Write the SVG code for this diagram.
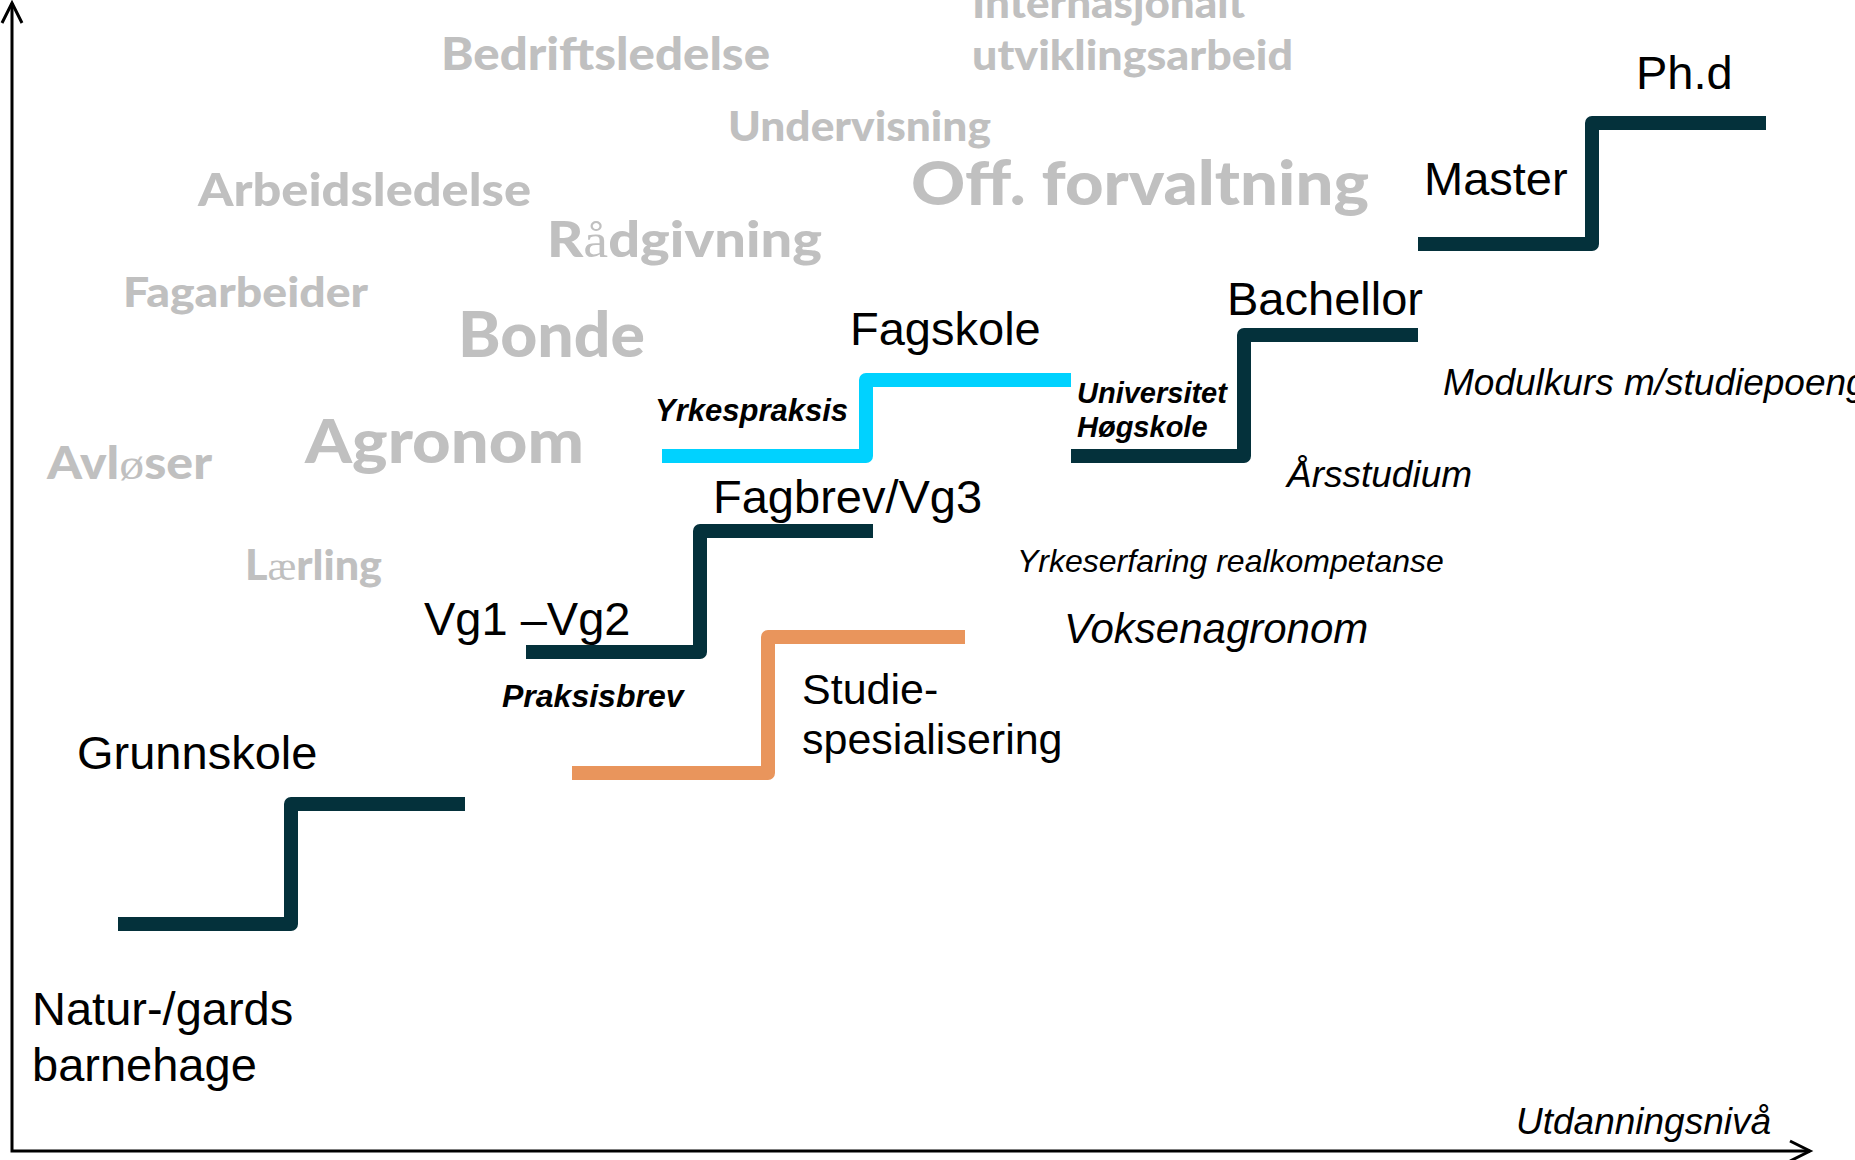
<svg xmlns="http://www.w3.org/2000/svg" width="1855" height="1160" viewBox="0 0 1855 1160">
  <style>
    .grey { font-family: "Lato", "DejaVu Sans", sans-serif; font-weight: 900; fill: #C0C0C0; }
    .alt { font-family: "Liberation Serif", serif; font-weight: 400; }
    .lbl { font-family: "Liberation Sans", Arial, sans-serif; fill: #000; font-size: 47px; }
    .it { font-family: "Liberation Sans", Arial, sans-serif; font-style: italic; fill: #000; }
    .bi { font-family: "Liberation Sans", Arial, sans-serif; font-style: italic; font-weight: 700; fill: #000; }
    .step { fill: none; stroke-width: 14; stroke-linejoin: round; stroke-linecap: butt; }
    .teal { stroke: #04313B; }
    .cyan { stroke: #00D2FF; }
    .orange { stroke: #E9955C; }
    .axis { fill: none; stroke: #000; stroke-width: 3; }
  </style>
  <defs>
    <marker id="arrow" viewBox="-24 -14 28 28" markerWidth="28" markerHeight="28" refX="0" refY="0" orient="auto-start-reverse" markerUnits="userSpaceOnUse">
      <path d="M-20,-10 L0,0 L-20,10" fill="none" stroke="#000" stroke-width="3"/>
    </marker>
  </defs>
  <rect width="1855" height="1160" fill="#FFFFFF"/>

  <!-- grey career words -->
  <g id="careers">
    <text class="grey" x="441" y="70" font-size="45" textLength="329" lengthAdjust="spacingAndGlyphs">Bedriftsledelse</text>
    <text class="grey" x="198" y="206" font-size="46" textLength="333" lengthAdjust="spacingAndGlyphs">Arbeidsledelse</text>
    <text class="grey" x="728" y="141" font-size="41" textLength="263" lengthAdjust="spacingAndGlyphs">Undervisning</text>
    <text class="grey" x="547" y="257" font-size="49" textLength="275" lengthAdjust="spacingAndGlyphs">R<tspan class="alt">å</tspan>dgivning</text>
    <text class="grey" x="123" y="307" font-size="41" textLength="245" lengthAdjust="spacingAndGlyphs">Fagarbeider</text>
    <text class="grey" x="458" y="357" font-size="63" textLength="187" lengthAdjust="spacingAndGlyphs">Bonde</text>
    <text class="grey" x="47" y="479" font-size="45" textLength="165" lengthAdjust="spacingAndGlyphs">Avl<tspan class="alt">ø</tspan>ser</text>
    <text class="grey" x="305" y="463" font-size="60" textLength="279" lengthAdjust="spacingAndGlyphs">Agronom</text>
    <text class="grey" x="245" y="580" font-size="42" textLength="137" lengthAdjust="spacingAndGlyphs">L<tspan class="alt">æ</tspan>rling</text>
    <text class="grey" x="911" y="205" font-size="60" textLength="458" lengthAdjust="spacingAndGlyphs">Off. forvaltning</text>
    <text class="grey" x="972" y="18" font-size="41" textLength="273" lengthAdjust="spacingAndGlyphs">Internasjonalt</text>
    <text class="grey" x="972" y="70" font-size="41" textLength="321" lengthAdjust="spacingAndGlyphs">utviklingsarbeid</text>
  </g>

  <!-- axes (connectors) -->
  <g id="connectors">
    <path class="axis" d="M12,3 V1151 H1810" marker-start="url(#arrow)" marker-end="url(#arrow)"/>
  </g>

  <g id="natur-barnehage">
    <text class="lbl" x="32" y="1025">Natur-/gards</text>
    <text class="lbl" x="32" y="1081">barnehage</text>
  </g>

  <g id="grunnskole">
    <path class="step teal" d="M118,924 H291 V804 H465"/>
    <text class="lbl" x="77" y="769">Grunnskole</text>
  </g>

  <g id="vg1-vg3">
    <path class="step teal" d="M526,652 H700 V531 H873"/>
    <text class="lbl" x="424" y="635">Vg1 –Vg2</text>
    <text class="lbl" x="713" y="513">Fagbrev/Vg3</text>
    <text class="bi" x="502" y="707" font-size="32">Praksisbrev</text>
  </g>

  <g id="studiespesialisering">
    <path class="step orange" d="M572,773 H768 V637 H965"/>
    <text class="lbl" x="802" y="704" style="font-size:43px">Studie-</text>
    <text class="lbl" x="802" y="754" style="font-size:43px">spesialisering</text>
  </g>

  <g id="fagskole">
    <path class="step cyan" d="M662,456 H866 V380 H1071"/>
    <text class="lbl" x="850" y="345">Fagskole</text>
    <text class="bi" x="655" y="421" font-size="31">Yrkespraksis</text>
  </g>

  <g id="bachellor">
    <path class="step teal" d="M1071,456 H1244 V335 H1418"/>
    <text class="lbl" x="1227" y="315">Bachellor</text>
    <text class="bi" x="1077" y="403" font-size="29">Universitet</text>
    <text class="bi" x="1077" y="437" font-size="29">Høgskole</text>
  </g>

  <g id="master-phd">
    <path class="step teal" d="M1418,244 H1592 V123 H1766"/>
    <text class="lbl" x="1424" y="195">Master</text>
    <text class="lbl" x="1636" y="89">Ph.d</text>
  </g>

  <g id="other-routes">
    <text class="it" x="1443" y="395" font-size="37">Modulkurs m/studiepoeng</text>
    <text class="it" x="1287" y="487" font-size="37">Årsstudium</text>
    <text class="it" x="1017" y="572" font-size="32">Yrkeserfaring realkompetanse</text>
    <text class="it" x="1064" y="643" font-size="42">Voksenagronom</text>
  </g>

  <g id="x-axis-label">
    <text class="it" x="1516" y="1134" font-size="37">Utdanningsnivå</text>
  </g>
</svg>
